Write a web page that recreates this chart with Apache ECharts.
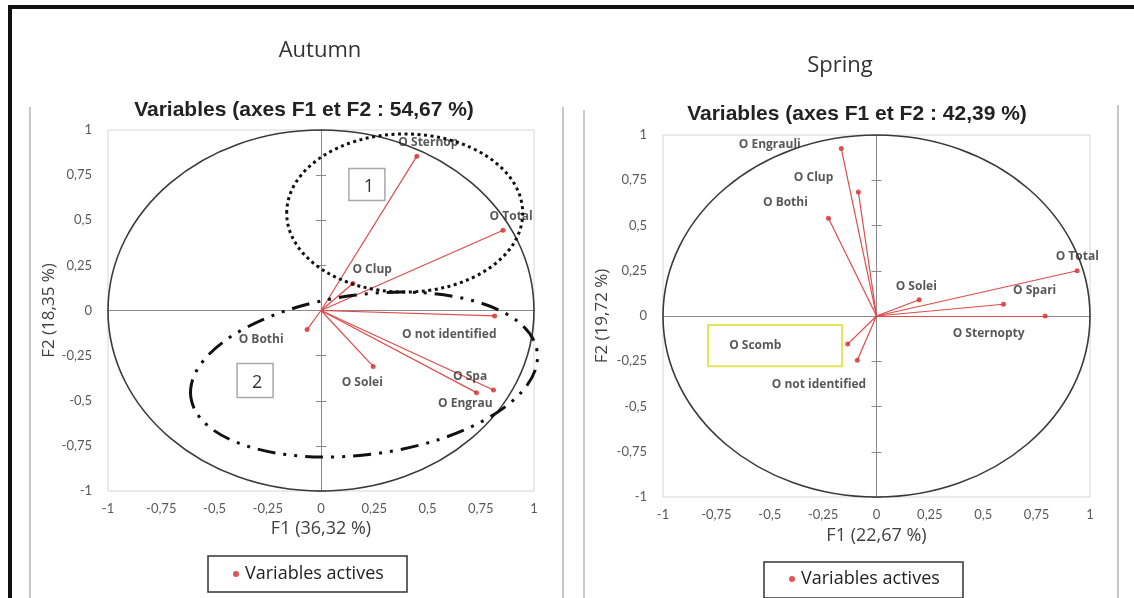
<!DOCTYPE html>
<html>
<head>
<meta charset="utf-8">
<script src="https://cdn.jsdelivr.net/npm/echarts@6/dist/echarts.min.js"></script>
<style>
  html, body { margin: 0; padding: 0; background: #fff; }
  #chart { width: 1134px; height: 598px; }
</style>
</head>
<body>
<div id="chart"></div>
<script>
// PCA correlation circles: loadings of each variable on F1 / F2

// Autumn
const autumnNames = ['Sternop', 'Total', 'Clup', 'not identified', 'Bothi', 'Solei', 'Spa', 'Engrau'];
const autumnF1 = [0.45, 0.855, 0.15, 0.815, -0.065, 0.245, 0.81, 0.73];
const autumnF2 = [0.855, 0.445, 0.15, -0.03, -0.105, -0.31, -0.44, -0.455];

// Spring
const springNames = ['Engrauli', 'Clup', 'Bothi', 'Total', 'Solei', 'Spari', 'Sternopty', 'Scomb', 'not identified'];
const springF1 = [-0.165, -0.085, -0.225, 0.94, 0.2, 0.595, 0.79, -0.135, -0.09];
const springF2 = [0.925, 0.685, 0.54, 0.25, 0.09, 0.065, 0.0, -0.155, -0.245];

// Axis tick labels (French decimal comma)
const tickLabels = ['-1', '-0,75', '-0,5', '-0,25', '0', '0,25', '0,5', '0,75', '1'];

// Text of each panel
const panelTitles = ['Autumn', 'Spring'];
const panelSubtitles = ['Variables (axes F1 et F2 : 54,67 %)', 'Variables (axes F1 et F2 : 42,39 %)'];
const f1Names = ['F1 (36,32 %)', 'F1 (22,67 %)'];
const f2Names = ['F2 (18,35 %)', 'F2 (19,72 %)'];
const legendName = 'Variables actives';

// Label placement (pixel offsets from each point marker)
const autumnLabelOffsets = {
  'Sternop': [-16, -11], 'Total': [-11, -11], 'Clup': [2, -11], 'not identified': [-90, 21],
  'Bothi': [-66, 13], 'Solei': [-29, 19], 'Spa': [-38, -11], 'Engrau': [-36, 13]
};
const springLabelOffsets = {
  'Engrauli': [-100, -1], 'Clup': [-62, -12], 'Bothi': [-63, -13], 'Total': [-19, -12],
  'Solei': [-21, -11], 'Spari': [12, -11], 'Sternopty': [-90, 20], 'Scomb': [-116, 4],
  'not identified': [-83, 27]
};

const RED = '#d42a2a';
const LABEL_FONT = 'Open Sans';

const tickFmt = v => tickLabels[Math.round((v + 1) / 0.25)];

const grids = [
  { left: 108, top: 130, width: 426, height: 361, show: true, borderColor: '#d6d6d6', borderWidth: 1 },
  { left: 663, top: 135, width: 427, height: 362, show: true, borderColor: '#d6d6d6', borderWidth: 1 }
];

const xAxes = [];
const yAxes = [];
function addPanelAxes(g, xGap, yGap) {
  const base = { type: 'value', gridIndex: g, min: -1, max: 1, interval: 0.25, splitLine: { show: false } };
  const xLabelIdx = xAxes.length;
  const yLabelIdx = yAxes.length;
  // axes carrying tick labels along the frame
  xAxes.push(Object.assign({}, base, {
    position: 'bottom',
    axisLine: { show: false, onZero: false },
    axisTick: { show: false },
    axisLabel: { formatter: tickFmt, color: '#595959', fontSize: 13, fontFamily: 'Lato', margin: 11 },
    name: f1Names[g], nameLocation: 'middle', nameGap: xGap,
    nameTextStyle: { color: '#404040', fontSize: 18, fontFamily: LABEL_FONT }
  }));
  yAxes.push(Object.assign({}, base, {
    position: 'left',
    axisLine: { show: false, onZero: false },
    axisTick: { show: false },
    axisLabel: { formatter: tickFmt, color: '#595959', fontSize: 13, fontFamily: 'Lato', margin: 16 },
    name: f2Names[g], nameLocation: 'middle', nameGap: yGap,
    nameTextStyle: { color: '#404040', fontSize: 17, fontFamily: LABEL_FONT }
  }));
  // axes crossing at the origin
  xAxes.push(Object.assign({}, base, {
    axisLine: { show: true, onZero: true, onZeroAxisIndex: yLabelIdx, lineStyle: { color: '#8a8a8a', width: 1 } },
    axisTick: { show: false }, axisLabel: { show: false }
  }));
  yAxes.push(Object.assign({}, base, {
    position: 'left',
    axisLine: { show: true, onZero: true, onZeroAxisIndex: xLabelIdx, lineStyle: { color: '#8a8a8a', width: 1 } },
    axisTick: { show: true, length: 5, lineStyle: { color: '#8a8a8a' } }, axisLabel: { show: false }
  }));
  yAxes.push(Object.assign({}, base, {
    position: 'left',
    axisLine: { show: false, onZero: true, onZeroAxisIndex: xLabelIdx },
    axisTick: { show: true, inside: true, length: 5, lineStyle: { color: '#8a8a8a' } }, axisLabel: { show: false }
  }));
  return { x: xLabelIdx, y: yLabelIdx };
}
const axesIdx = [addPanelAxes(0, 28, 50), addPanelAxes(1, 30, 52)];

function vectorSeries(g, names, f1, f2) {
  return {
    type: 'lines', coordinateSystem: 'cartesian2d',
    xAxisIndex: axesIdx[g].x, yAxisIndex: axesIdx[g].y,
    silent: true, z: 3,
    lineStyle: { color: '#e04a4a', width: 1.2, opacity: 1 },
    data: names.map((n, i) => ({ coords: [[0, 0], [f1[i], f2[i]]] }))
  };
}
function pointSeries(g, names, f1, f2, offsets) {
  return {
    type: 'scatter', name: legendName,
    xAxisIndex: axesIdx[g].x, yAxisIndex: axesIdx[g].y,
    symbol: 'circle', symbolSize: 5, z: 4,
    itemStyle: { color: RED },
    label: {
      show: true, formatter: p => 'O ' + p.name,
      align: 'left', verticalAlign: 'middle',
      color: '#2e2e2e', fontSize: 12, fontWeight: 'bold', fontFamily: LABEL_FONT
    },
    data: names.map((n, i) => ({
      name: n, value: [f1[i], f2[i]],
      label: { position: offsets[n] }
    }))
  };
}

const titleBase = { textAlign: 'center' };
const chart = echarts.init(document.getElementById('chart'), null, { renderer: 'canvas' });
chart.setOption({
  backgroundColor: '#ffffff',
  animation: false,
  title: [
    Object.assign({ text: panelTitles[0], left: 315, top: 35, textStyle: { fontSize: 22, fontWeight: 'normal', color: '#333', fontFamily: LABEL_FONT } }, titleBase),
    Object.assign({ text: panelTitles[1], left: 835, top: 50, textStyle: { fontSize: 22, fontWeight: 'normal', color: '#333', fontFamily: LABEL_FONT } }, titleBase),
    Object.assign({ text: panelSubtitles[0], left: 299, top: 95, textStyle: { fontSize: 21, fontWeight: 'bold', color: '#222', fontFamily: 'Liberation Sans' } }, titleBase),
    Object.assign({ text: panelSubtitles[1], left: 852, top: 99, textStyle: { fontSize: 21, fontWeight: 'bold', color: '#222', fontFamily: 'Liberation Sans' } }, titleBase)
  ],
  legend: [
    { data: [legendName], left: 233, top: 564, padding: 0, icon: 'circle', itemWidth: 8, itemHeight: 6, selectedMode: false,
      textStyle: { fontSize: 18, color: '#222', fontFamily: LABEL_FONT, lineHeight: 20 } },
    { data: [legendName], left: 789, top: 569, padding: 0, icon: 'circle', itemWidth: 8, itemHeight: 6, selectedMode: false,
      textStyle: { fontSize: 18, color: '#222', fontFamily: LABEL_FONT, lineHeight: 20 } }
  ],
  grid: grids,
  xAxis: xAxes,
  yAxis: yAxes,
  series: [
    vectorSeries(0, autumnNames, autumnF1, autumnF2),
    pointSeries(0, autumnNames, autumnF1, autumnF2, autumnLabelOffsets),
    vectorSeries(1, springNames, springF1, springF2),
    pointSeries(1, springNames, springF1, springF2, springLabelOffsets)
  ]
});

// Annotations, given in axis units of each panel
const autumnGroups = [
  { cx: 0.393, cy: 0.54, rx: 0.554, ry: 0.438, rot: 0, dash: [3, 3.5] },
  { cx: 0.202, cy: -0.355, rx: 0.82, ry: 0.443, rot: 0.13, dash: [18, 8, 3, 8, 3, 8] }
];
const autumnBoxes = [
  { text: '1', x: 0.131, y: 0.787, w: 0.169, h: 0.177 },
  { text: '2', x: -0.394, y: -0.294, w: 0.169, h: 0.188 }
];
const springBox = { x: -0.789, y: -0.05, w: 0.628, h: 0.227 };

function toPx(g, x, y) {
  return chart.convertToPixel({ xAxisIndex: axesIdx[g].x, yAxisIndex: axesIdx[g].y }, [x, y]);
}

const graphics = [];
// outer frame edges and panel separators
graphics.push({ type: 'rect', shape: { x: 8, y: 5, width: 1126, height: 4 }, style: { fill: '#111' }, silent: true });
graphics.push({ type: 'rect', shape: { x: 8, y: 5, width: 4, height: 593 }, style: { fill: '#111' }, silent: true });
[[30, 107], [563, 107], [584, 110], [1118, 105]].forEach(([x, y]) => {
  graphics.push({ type: 'rect', shape: { x: x - 1, y: y, width: 2, height: 598 - y }, style: { fill: '#c8c8c8' }, silent: true });
});

// unit correlation circle in each panel
[0, 1].forEach(g => {
  const c = toPx(g, 0, 0);
  const e = toPx(g, 1, 1);
  graphics.push({
    type: 'ellipse', x: c[0], y: c[1], z: 1, silent: true,
    shape: { cx: 0, cy: 0, rx: e[0] - c[0], ry: c[1] - e[1] },
    style: { fill: 'none', stroke: '#3a3a3a', lineWidth: 1.6 }
  });
});

// grouping ellipses (Autumn)
autumnGroups.forEach(a => {
  const c = toPx(0, a.cx, a.cy);
  const o = toPx(0, 0, 0);
  const u = toPx(0, 1, 1);
  graphics.push({
    type: 'ellipse', x: c[0], y: c[1], rotation: a.rot, z: 10, silent: true,
    shape: { cx: 0, cy: 0, rx: a.rx * (u[0] - o[0]), ry: a.ry * (o[1] - u[1]) },
    style: { fill: 'none', stroke: '#111', lineWidth: 3, lineDash: a.dash }
  });
});

// numbered boxes (Autumn)
autumnBoxes.forEach(b => {
  const p = toPx(0, b.x, b.y);
  const q = toPx(0, b.x + b.w, b.y - b.h);
  graphics.push({
    type: 'rect', z: 10, silent: true,
    shape: { x: p[0], y: p[1], width: q[0] - p[0], height: q[1] - p[1] },
    style: { fill: '#fff', stroke: '#a8a8a8', lineWidth: 1.5 }
  });
  graphics.push({
    type: 'text', z: 11, silent: true,
    style: { text: b.text, x: (p[0] + q[0]) / 2 + 2, y: (p[1] + q[1]) / 2 + 2, align: 'center', verticalAlign: 'middle',
      fill: '#333', font: '18px "Open Sans"' }
  });
});

// highlight box (Spring)
{
  const p = toPx(1, springBox.x, springBox.y);
  const q = toPx(1, springBox.x + springBox.w, springBox.y - springBox.h);
  graphics.push({
    type: 'rect', z: 10, silent: true,
    shape: { x: p[0], y: p[1], width: q[0] - p[0], height: q[1] - p[1] },
    style: { fill: 'none', stroke: '#e4e45a', lineWidth: 2 }
  });
}

// legend frames
[[208, 556, 199, 36], [764, 562, 199, 36]].forEach(([x, y, w, h]) => {
  graphics.push({ type: 'rect', silent: true, shape: { x, y, width: w, height: h }, style: { fill: 'none', stroke: '#333', lineWidth: 1.5 } });
});

chart.setOption({ graphic: graphics });
</script>
</body>
</html>
